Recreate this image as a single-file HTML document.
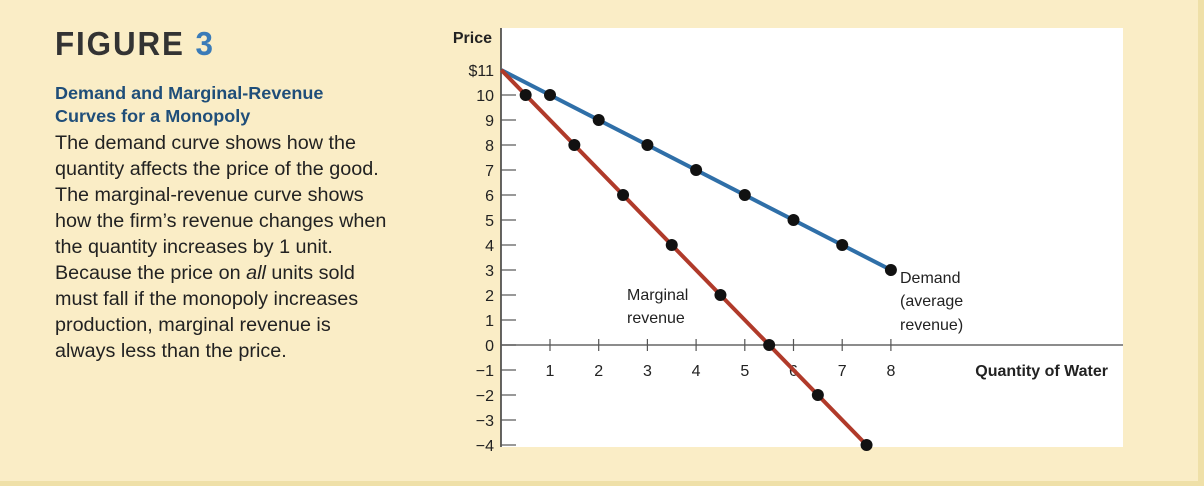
<!DOCTYPE html>
<html><head><meta charset="utf-8"><style>
body{margin:0;width:1204px;height:486px;overflow:hidden;background:#fbefc8;font-family:"Liberation Sans",sans-serif}
#frame{position:absolute;left:0;top:0;width:1198px;height:481px;background:#faedc6;border-right:6px solid #efe0a8;border-bottom:5px solid #efe0a8}
.t{position:absolute;white-space:nowrap;color:#222}
</style></head><body>
<div id="frame"></div>
<div class="t" style="left:55px;top:25px;font-size:33px;font-weight:bold;letter-spacing:2px;color:#333;transform:scaleX(.95);transform-origin:left">FIGURE <span style="color:#3a7bb8">3</span></div>
<div class="t" style="left:55px;top:82px;font-size:17.5px;font-weight:bold;line-height:23px;color:#1f4e79;transform:scaleX(1.03);transform-origin:left">Demand and Marginal-Revenue<br>Curves for a Monopoly</div>
<div class="t" style="left:55px;top:131px;font-size:19px;line-height:26px;color:#222;transform:scaleX(1.04);transform-origin:left">The demand curve shows how the<br>quantity affects the price of the good.<br>The marginal-revenue curve shows<br>how the firm’s revenue changes when<br>the quantity increases by 1 unit.<br>Because the price on <i>all</i> units sold<br>must fall if the monopoly increases<br>production, marginal revenue is<br>always less than the price.</div>
<svg id="chart" width="1204" height="486" style="position:absolute;left:0;top:0" font-family="Liberation Sans, sans-serif"></svg>
<script>
const yTicks=[10,9,8,7,6,5,4,3,2,1,0,-1,-2,-3,-4];
const xTicks=[1,2,3,4,5,6,7,8];
const demandQ=[1,2,3,4,5,6,7,8];
const demandP=[10,9,8,7,6,5,4,3];
const mrQ=[0.5,1.5,2.5,3.5,4.5,5.5,6.5,7.5];
const mrP=[10,8,6,4,2,0,-2,-4];
const NS="http://www.w3.org/2000/svg";
const svg=document.getElementById('chart');
const X=q=>501.3+q*48.7, Y=p=>345-p*25;
function mk(t,a,txt){const e=document.createElementNS(NS,t);for(const k in a)e.setAttribute(k,a[k]);if(txt!=null)e.textContent=txt;svg.appendChild(e);return e;}
let e;
e=mk('rect',{x:501,y:28,width:622,height:419,fill:'#fff'});


e=mk('line',{x1:501,y1:28,x2:501,y2:447,stroke:'#333','stroke-width':1.5});


e=mk('line',{x1:501,y1:Y(0),x2:1123,y2:Y(0),stroke:'#666','stroke-width':1.5});


yTicks.forEach(v=>{
 e=mk('line',{x1:501,y1:Y(v),x2:516,y2:Y(v),stroke:'#555','stroke-width':1.2});
 
 
 e=mk('text',{x:494,y:Y(v)+6,'text-anchor':'end','font-size':16,fill:'#222'},v<0?'\u2212'+(-v):String(v));
 
 
});
e=mk('text',{x:494,y:Y(11)+6,'text-anchor':'end','font-size':16,fill:'#222'},'$11');


xTicks.forEach(v=>{
 e=mk('line',{x1:X(v),y1:Y(0)-6,x2:X(v),y2:Y(0)+6,stroke:'#555','stroke-width':1.2});
 
 
 e=mk('text',{x:X(v),y:Y(0)+31,'text-anchor':'middle','font-size':16,fill:'#222'},String(v));
 
 
});
e=mk('line',{x1:X(0),y1:Y(11),x2:X(demandQ[demandQ.length-1]),y2:Y(demandP[demandP.length-1]),stroke:'#2f6fa8','stroke-width':4});


e=mk('line',{x1:X(0),y1:Y(11),x2:X(mrQ[mrQ.length-1]),y2:Y(mrP[mrP.length-1]),stroke:'#b03a2a','stroke-width':4});


demandQ.forEach((q,i)=>{e=mk('circle',{cx:X(q),cy:Y(demandP[i]),r:6,fill:'#111'});
 
 });
mrQ.forEach((q,i)=>{e=mk('circle',{cx:X(q),cy:Y(mrP[i]),r:6,fill:'#111'});
 
 });
function lbl(x,y,s,name,extra){e=mk('text',Object.assign({x:x,y:y,'font-size':16,fill:'#222'},extra||{}),s);
 
 }
lbl(492,43,'Price','y-axis-title',{'text-anchor':'end','font-weight':'bold'});
lbl(1108,376,'Quantity of Water','x-axis-title',{'text-anchor':'end','font-weight':'bold'});
lbl(627,300,'Marginal','mr-label');
lbl(627,323,'revenue','mr-label');
lbl(900,283,'Demand','demand-label');
lbl(900,306,'(average','demand-label');
lbl(900,330,'revenue)','demand-label');
</script>
</body></html>
